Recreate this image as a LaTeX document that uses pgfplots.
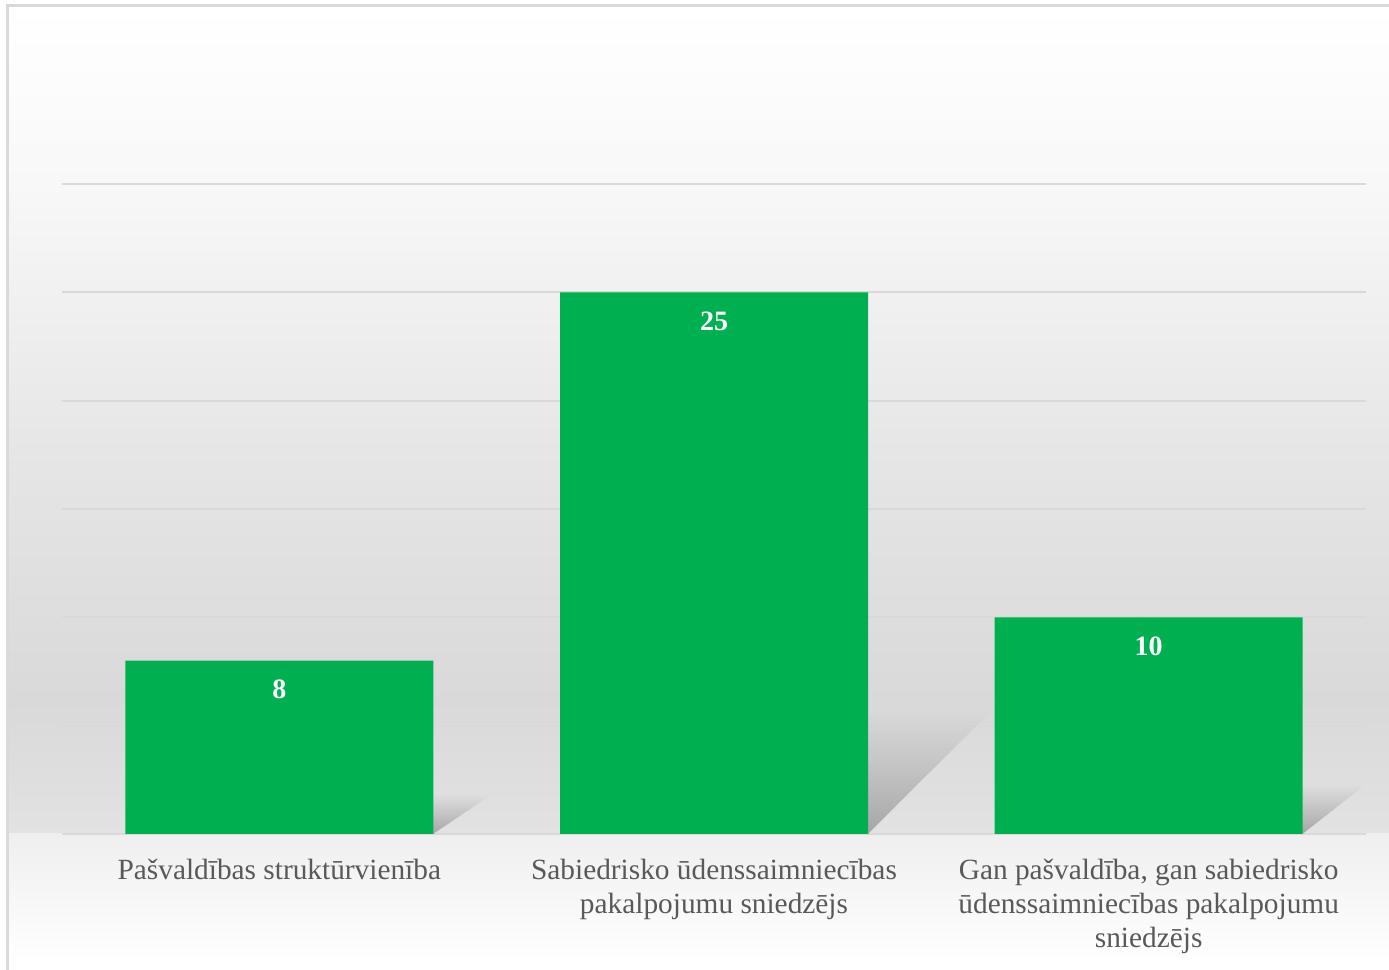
\documentclass[border=0pt]{standalone}
\usepackage{pgfplots}
\pgfplotsset{compat=1.18}
\usepackage{fontspec}
\setmainfont{Liberation Serif}
\usetikzlibrary{fadings}
\definecolor{barg}{HTML}{00B050}
\definecolor{gridc}{HTML}{D9D9D9}
\definecolor{txt}{HTML}{595959}
\definecolor{bg1}{HTML}{F8F8F8}
\definecolor{bg2}{HTML}{E6E6E6}
\definecolor{bg3}{HTML}{D9D9D9}
\definecolor{bg4}{HTML}{E2E2E2}
\definecolor{bg5}{HTML}{EFEFEF}
\begin{document}
\begin{tikzpicture}[x=1pt,y=1pt]
\useasboundingbox (0,0) rectangle (1041.75,727.5);
% background gradient
\shade[top color=white, bottom color=bg1] (5.25,589.5) rectangle (1041.75,723);
\shade[top color=bg1, bottom color=bg2] (5.25,390) rectangle (1041.75,589.6);
\shade[top color=bg2, bottom color=bg3] (5.25,202.5) rectangle (1041.75,390.1);
\shade[top color=bg3, bottom color=bg4] (5.25,102) rectangle (1041.75,202.6);
\shade[top color=bg5, bottom color=white] (5.25,7.5) rectangle (1041.75,102.1);
\draw[gridc, line width=2.25pt] (5.25,0) -- (5.25,723) -- (1041.75,723);
\begin{axis}[
  at={(46.5pt,102pt)}, anchor=south west,
  width=978pt, height=487.5pt, scale only axis,
  xmin=-0.5, xmax=2.5, ymin=0, ymax=30,
  axis x line*=bottom, axis y line*=left,
  x axis line style={gridc, line width=1.5pt},
  y axis line style={draw=none},
  ytick={0,5,...,30}, yticklabels={},
  ymajorgrids, grid style={gridc, line width=1.5pt},
  major tick length=0pt,
  xtick=data,
  xticklabels={{Pašvaldības struktūrvienība},{Sabiedrisko ūdenssaimniecības\\pakalpojumu sniedzējs},{Gan pašvaldība, gan sabiedrisko\\ūdenssaimniecības pakalpojumu\\sniedzējs}},
  xticklabel style={align=center, text=txt, font=\fontsize{22}{25.5}\selectfont, anchor=north, yshift=-15pt},
  /pgf/number format/assume math mode=true,
  ybar, bar width=231pt, bar shift=0pt,
  nodes near coords,
  nodes near coords style={anchor=north, yshift=-11pt, text=white, font=\fontsize{21}{25}\selectfont\bfseries},
]
% decorative shadows derived from bar values
\fill[black!35, path fading=north] (axis cs:-0.354,0) -- (axis cs:0.354,0) -- (axis cs:0.49,1.84) -- (axis cs:-0.22,1.84) -- cycle;
\fill[black!35, path fading=north] (axis cs:0.646,0) -- (axis cs:1.354,0) -- (axis cs:1.641,5.75) -- (axis cs:0.933,5.75) -- cycle;
\fill[black!35, path fading=north] (axis cs:1.646,0) -- (axis cs:2.354,0) -- (axis cs:2.5,2.3) -- (axis cs:1.79,2.3) -- cycle;
\addplot[fill=barg, draw=none] coordinates {(0,8) (1,25) (2,10)};
\end{axis}
\end{tikzpicture}
\end{document}
